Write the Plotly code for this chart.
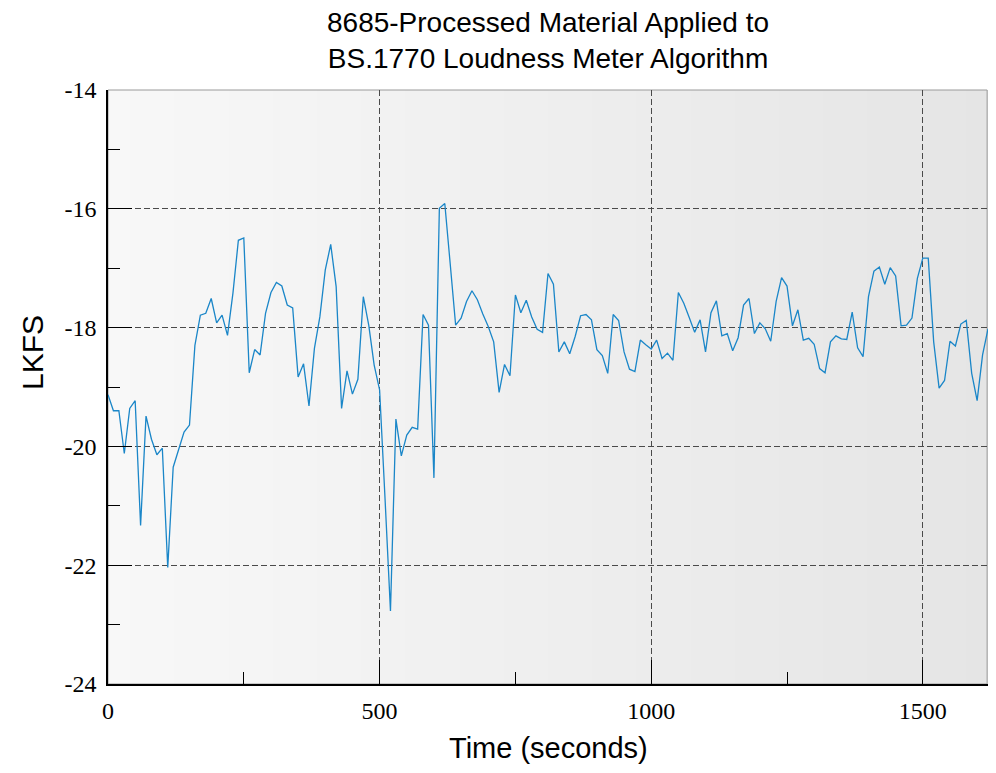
import plotly.graph_objects as go

# ---- data ----
time_s = list(range(0, 1630, 10))  # one reading every 10 s
lkfs = [
    -19.13, -19.40, -19.40, -20.12, -19.36, -19.23, -21.33, -19.49, -19.88, -20.14,
    -20.03, -22.04, -20.35, -20.05, -19.76, -19.64, -18.30, -17.79, -17.76, -17.51,
    -17.92, -17.79, -18.13, -17.42, -16.53, -16.49, -18.76, -18.37, -18.46, -17.76,
    -17.41, -17.24, -17.30, -17.62, -17.67, -18.83, -18.61, -19.32, -18.35, -17.82,
    -17.03, -16.60, -17.31, -19.36, -18.73, -19.12, -18.87, -17.48, -17.96, -18.63,
    -19.05, -20.88, -22.77, -19.54, -20.16, -19.81, -19.68, -19.71, -17.78, -17.96,
    -20.53, -15.99, -15.91, -16.93, -17.96, -17.84, -17.56, -17.38, -17.53, -17.77,
    -17.98, -18.24, -19.09, -18.62, -18.81, -17.45, -17.75, -17.54, -17.82, -18.03,
    -18.08, -17.09, -17.27, -18.41, -18.24, -18.44, -18.15, -17.80, -17.78, -17.87,
    -18.37, -18.47, -18.77, -17.78, -17.88, -18.41, -18.70, -18.74, -18.21, -18.29,
    -18.36, -18.21, -18.52, -18.43, -18.55, -17.41, -17.59, -17.83, -18.08, -17.87,
    -18.41, -17.75, -17.55, -18.14, -18.10, -18.39, -18.17, -17.62, -17.51, -18.10,
    -17.92, -18.02, -18.23, -17.56, -17.16, -17.30, -17.97, -17.70, -18.21, -18.18,
    -18.28, -18.69, -18.76, -18.24, -18.14, -18.19, -18.20, -17.74, -18.34, -18.49,
    -17.48, -17.05, -16.98, -17.27, -16.99, -17.13, -17.97, -17.96, -17.84, -17.17,
    -16.83, -16.83, -18.24, -19.02, -18.89, -18.23, -18.31, -17.94, -17.88, -18.77,
    -19.23, -18.46, -18.02,
]
x_ticks = [0, 500, 1000, 1500]
x_tick_labels = ["0", "500", "1000", "1500"]
y_ticks = [-24, -22, -20, -18, -16, -14]
y_tick_labels = ["-24", "-22", "-20", "-18", "-16", "-14"]
title_lines = ["8685-Processed Material Applied to", "BS.1770 Loudness Meter Algorithm"]
x_title = "Time (seconds)"
y_title = "LKFS"

fig = go.Figure()
fig.add_trace(go.Scatter(
    x=time_s, y=lkfs, mode="lines",
    line=dict(color="#1a86c8", width=1.3),
    showlegend=False, hoverinfo="x+y",
))

# gradient background stripes (light left -> darker right)
shapes = []
n = 80
c0, c1 = 248, 229
for i in range(n):
    c = round(c0 + (c1 - c0) * (i + 0.5) / n)
    shapes.append(dict(
        type="rect", xref="x domain", yref="y domain",
        x0=i / n, x1=(i + 1) / n + 0.002, y0=0, y1=1,
        fillcolor=f"rgb({c},{c},{c})", line=dict(width=0), layer="below",
    ))
shapes.append(dict(
    type="rect", xref="x domain", yref="y domain", x0=0, x1=0.999, y0=0, y1=1,
    line=dict(color="#9a9a9a", width=1), fillcolor="rgba(0,0,0,0)", layer="below",
))

tickfont = dict(family="Liberation Serif", size=24, color="black")
fig.update_layout(
    width=980, height=757,
    margin=dict(l=100, r=0, t=82, b=81),
    paper_bgcolor="white", plot_bgcolor="#efefef",
    shapes=shapes,
    xaxis=dict(
        range=[0, 1620], tickvals=x_ticks, ticktext=x_tick_labels, ticks="inside", ticklen=24,
        tickcolor="black", tickwidth=1, showline=True, linecolor="black", linewidth=1.5,
        showgrid=True, gridcolor="#4a4a4a", gridwidth=1, griddash="6px,3px",
        zeroline=False, tickfont=tickfont, ticklabelstandoff=4,
        minor=dict(dtick=250, tick0=0, ticks="inside", ticklen=12, tickcolor="black", showgrid=False),
    ),
    yaxis=dict(
        range=[-24, -14], tickvals=y_ticks, ticktext=y_tick_labels, ticks="inside", ticklen=24,
        tickcolor="black", tickwidth=1, showline=True, linecolor="black", linewidth=1.5,
        showgrid=True, gridcolor="#4a4a4a", gridwidth=1, griddash="6px,3px",
        zeroline=False, tickfont=tickfont, ticklabelstandoff=5,
        minor=dict(dtick=1, tick0=-24, ticks="inside", ticklen=12, tickcolor="black", showgrid=False),
    ),
    annotations=[
        dict(text="<br>".join(title_lines), xref="paper", yref="paper", x=0.5, y=1.0833,
             xanchor="center", yanchor="middle", showarrow=False,
             font=dict(family="Liberation Sans", size=28, color="black")),
        dict(text=x_title, xref="paper", yref="paper", x=0.5, y=-0.108,
             xanchor="center", yanchor="middle", showarrow=False,
             font=dict(family="Liberation Sans", size=29, color="black")),
        dict(text=y_title, xref="paper", yref="paper", x=-0.085, y=0.5576,
             xanchor="center", yanchor="middle", showarrow=False, textangle=-90,
             font=dict(family="Liberation Sans", size=30, color="black")),
    ],
)

fig.write_html("out.html")
